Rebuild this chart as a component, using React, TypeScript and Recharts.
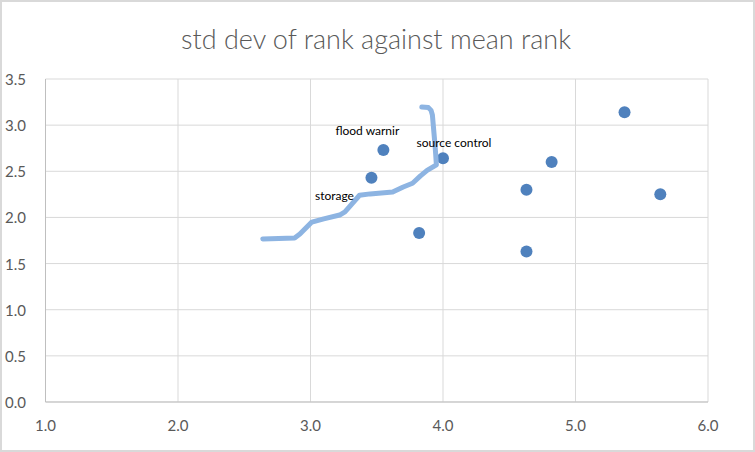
import { CartesianGrid, LabelList, Scatter, ScatterChart, XAxis, YAxis } from "recharts"

const meanRank = [3.55, 4.0, 3.46, 3.82, 4.63, 4.82, 4.63, 5.37, 5.64]
const stdDevRank = [2.73, 2.64, 2.43, 1.83, 2.3, 2.6, 1.63, 3.14, 2.25]
const pointLabels = ["flood warnir", "source control", "storage", "", "", "", "", "", ""]

// hand drawn trend line on the sheet
const sketchX = [2.64, 2.88, 2.92, 3.01, 3.1, 3.22, 3.26, 3.29, 3.37, 3.45, 3.62, 3.7, 3.77, 3.83, 3.88, 3.95, 3.945, 3.94, 3.92, 3.91, 3.89, 3.84]
const sketchY = [1.766, 1.777, 1.82, 1.95, 1.985, 2.026, 2.06, 2.11, 2.24, 2.255, 2.275, 2.33, 2.37, 2.45, 2.51, 2.57, 2.68, 2.78, 3.11, 3.16, 3.19, 3.196]

const xTicks = [1, 2, 3, 4, 5, 6]
const yTicks = [0, 0.5, 1, 1.5, 2, 2.5, 3, 3.5]

const points = meanRank.map((x, i) => ({ x, y: stdDevRank[i], label: pointLabels[i] }))
const sketch = sketchX.map((x, i) => ({ x, y: sketchY[i] }))

const labelOffset: Record<string, [number, number]> = {
  "flood warnir": [-16, -20],
  "source control": [11, -16],
  storage: [-37, 18],
}

const font = "Lato, 'Open Sans', sans-serif"

const renderLabel = (props: any) => {
  const { x, y, value, width, height } = props
  if (!value) return null
  const [dx, dy] = labelOffset[value] || [0, -12]
  const cx = x + (width || 0) / 2
  const cy = y + (height || 0) / 2
  return (
    <text x={cx + dx} y={cy + dy} textAnchor="middle" dominantBaseline="central" fontSize={12} fill="#000" fontFamily={font}>
      {value}
    </text>
  )
}

const YTick = (props: any) => {
  const { y, payload } = props
  return (
    <text x={5} y={y} dominantBaseline="central" fontSize={15} fill="#595959" fontFamily={font}>
      {payload.value.toFixed(1)}
    </text>
  )
}

export default function App() {
  return (
    <div style={{ position: "relative", width: 755, height: 452, background: "#fff" }}>
      <style>{`body{margin:0}`}</style>
      <ScatterChart width={755} height={452} margin={{ top: 79, right: 47, bottom: 0, left: 0 }}>
        <text x={376} y={38} textAnchor="middle" dominantBaseline="central" fontSize={27} fontWeight={300} fill="#595959" fontFamily={font}>
          std dev of rank against mean rank
        </text>
        <CartesianGrid stroke="#D9D9D9" />
        <XAxis
          type="number"
          dataKey="x"
          domain={[1, 6]}
          ticks={xTicks}
          tickFormatter={(v) => v.toFixed(1)}
          stroke="#BFBFBF"
          tickLine={false}
          height={50}
          tick={{ fill: "#595959", fontSize: 15, fontFamily: font, dy: 10 }}
        />
        <YAxis
          type="number"
          dataKey="y"
          domain={[0, 3.5]}
          ticks={yTicks}
          stroke="#BFBFBF"
          tickLine={false}
          width={45.5}
          tick={<YTick />}
        />
        <Scatter data={points} fill="#4F81BD" isAnimationActive={false} shape={(p: any) => <circle cx={p.cx} cy={p.cy} r={6} fill="#4F81BD" />}>
          <LabelList dataKey="label" content={renderLabel} />
        </Scatter>
        <Scatter
          data={sketch}
          isAnimationActive={false}
          line={{ stroke: "#8DB4E2", strokeWidth: 5, strokeLinecap: "round", strokeLinejoin: "round" }}
          lineType="joint"
          shape={() => null}
        />
      </ScatterChart>
      <div style={{ position: "absolute", inset: 0, border: "2px solid #D9D9D9", pointerEvents: "none" }} />
    </div>
  )
}
